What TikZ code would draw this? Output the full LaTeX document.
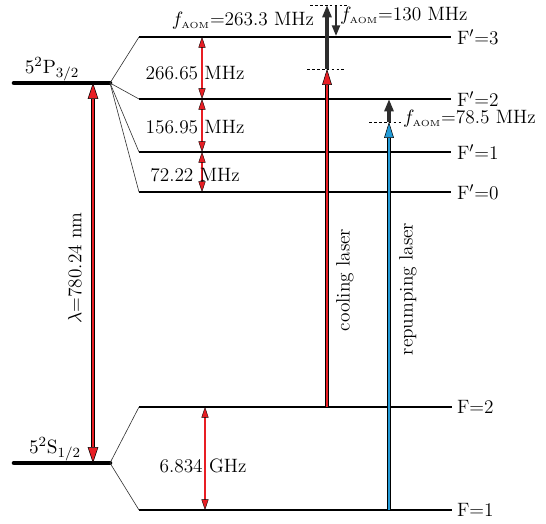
\documentclass[tikz,border=0pt]{standalone}
\usetikzlibrary{arrows.meta}
\definecolor{lasred}{RGB}{232,30,36}
\definecolor{lasblue}{RGB}{35,155,215}
\definecolor{aomgray}{RGB}{45,45,45}
\newcommand{\faom}{$f_{\mathrm{\scriptscriptstyle AOM}}$}
\begin{document}
\begin{tikzpicture}[x=0.02cm,y=-0.02cm,
  every node/.style={font=\fontsize{11}{13}\selectfont,inner sep=1pt},
  lvl/.style={line width=1.1pt},
  fine/.style={line width=2.6pt,line cap=round},
  fan/.style={line width=0.35pt,draw=black!80},
  laser/.style={draw=black,line width=0.3pt,double=#1,double distance=1.6pt},
  hfs/.style={draw=black,line width=0.2pt,double=lasred,double distance=1pt},
  tipr/.style={-{Stealth[length=9pt,width=5.5pt,inset=0pt,fill=#1,line width=0.3pt]}},
  hfstip/.style={{Stealth[length=6pt,width=4pt,inset=0pt,fill=lasred,line width=0.2pt]}-{Stealth[length=6pt,width=4pt,inset=0pt,fill=lasred,line width=0.2pt]}},
  aom/.style={aomgray,line width=2.2pt,-{Stealth[length=7pt,width=5pt,inset=0pt]}},
  guide/.style={line width=0.5pt,dash pattern=on 1.6pt off 1.2pt}]
\useasboundingbox (0,0) rectangle (546,523);
% fine structure
\coordinate (pL) at (14,83);  \coordinate (pR) at (110,83);
\coordinate (sL) at (14,463); \coordinate (sR) at (110,463);
\draw[fine] (pL) -- (pR);
\draw[fine] (sL) -- (sR);
\node (pname) at (52,69) {$5^2\mathrm{P}_{3/2}$};
\node (sname) at (55,449) {$5^2\mathrm{S}_{1/2}$};
% hyperfine levels
\coordinate (e3L) at (139,37);  \coordinate (e3R) at (451,37);
\coordinate (e2L) at (139,99);  \coordinate (e2R) at (451,99);
\coordinate (e1L) at (139,152); \coordinate (e1R) at (451,152);
\coordinate (e0L) at (139,192); \coordinate (e0R) at (451,192);
\coordinate (g2L) at (139,407); \coordinate (g2R) at (452,407);
\coordinate (g1L) at (139,510); \coordinate (g1R) at (452,510);
\foreach \l in {e3,e2,e1,e0,g2,g1} \draw[lvl] (\l L) -- (\l R);
\foreach \l in {e3,e2,e1,e0} \draw[fan] (pR) -- (\l L);
\foreach \l in {g2,g1} \draw[fan] (sR) -- (\l L);
\node[anchor=west] (e3n) at (455,37) {F$'$=3};
\node[anchor=west] (e2n) at (455,99) {F$'$=2};
\node[anchor=west] (e1n) at (455,152) {F$'$=1};
\node[anchor=west] (e0n) at (455,192) {F$'$=0};
\node[anchor=west] (g2n) at (455,407) {F=2};
\node[anchor=west] (g1n) at (455,510) {F=1};
% splittings
\coordinate (h3) at (202,37); \coordinate (h2) at (202,99);
\coordinate (h1) at (202,152); \coordinate (h0) at (202,192);
\coordinate (k2) at (205,407); \coordinate (k1) at (205,510);
\draw[hfs,hfstip] (h3) -- (h2);
\draw[hfs,hfstip] (h2) -- (h1);
\draw[hfs,hfstip] (h1) -- (h0);
\draw[hfs,hfstip] (k2) -- (k1);
\node (d32) at (195,73) {266.65 MHz};
\node (d21) at (195,127) {156.95 MHz};
\node (d10) at (195,175) {72.22 MHz};
\node (dgg) at (203,466) {6.834 GHz};
% D2 line
\coordinate (lamT) at (93,83); \coordinate (lamB) at (93,463);
\draw[laser=lasred,{Stealth[length=9pt,width=6pt,inset=0pt,fill=lasred,line width=0.3pt]}-{Stealth[length=9pt,width=6pt,inset=0pt,fill=lasred,line width=0.3pt]}] (lamT) -- (lamB);
\node[rotate=90] (lam) at (75,268) {$\lambda$=780.24 nm};
% cooling laser + AOM
\coordinate (c0) at (327,407); \coordinate (c1) at (327,69); \coordinate (c2) at (327,5);
\coordinate (cd) at (336,5); \coordinate (cdd) at (336,36);
\draw[laser=lasred,tipr=lasred] (c0) -- (c1);
\draw[aom] (c1) -- (c2);
\draw[aomgray,line width=1.2pt,-{Stealth[length=6pt,width=4.5pt,inset=0pt]}] (cd) -- (cdd);
\draw[guide] (307,69) -- (345,69);
\draw[guide] (310,5) -- (348,5);
\node[rotate=90] (cool) at (345,280) {cooling laser};
\node (aom1) at (243,21) {\faom=263.3 MHz};
\node[anchor=west] (aom2) at (338,16) {\faom=130 MHz};
% repumping laser + AOM
\coordinate (r0) at (389,510); \coordinate (r1) at (389,122); \coordinate (r2) at (389,99);
\draw[laser=lasblue,tipr=lasblue] (r0) -- (r1);
\draw[aom] (r1) -- (r2);
\draw[guide] (369,122) -- (401,122);
\node[rotate=90] (rep) at (408,289) {repumping laser};
\node[anchor=west] (aom3) at (401,119) {\faom=78.5 MHz};
\end{tikzpicture}
\end{document}
